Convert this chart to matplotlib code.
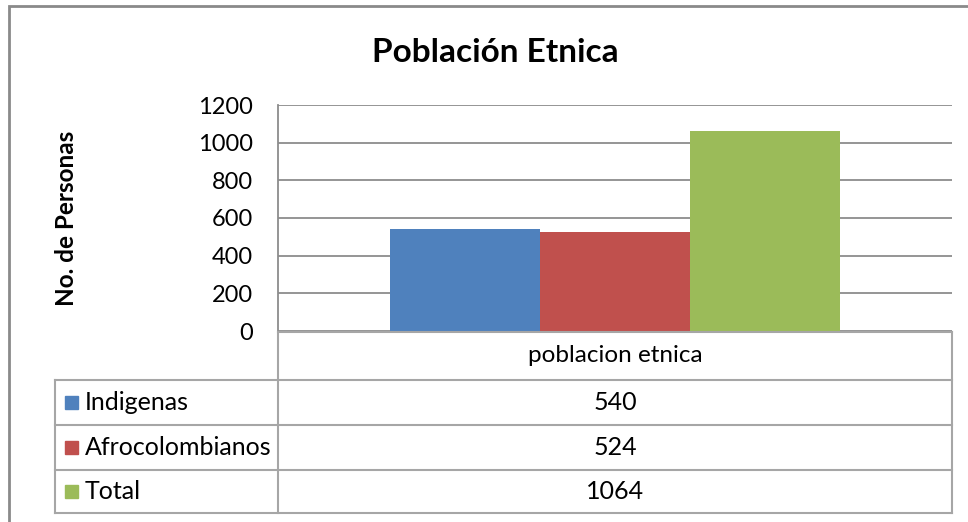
import matplotlib
matplotlib.use('Agg')
import matplotlib.pyplot as plt
from matplotlib.patches import Rectangle

plt.rcParams['font.family'] = ['Lato', 'DejaVu Sans']

# data
category = 'poblacion etnica'
series = ['Indigenas', 'Afrocolombianos', 'Total']
values = [540, 524, 1064]
colors = ['#4F81BD', '#C0504D', '#9BBB59']
yticks = [0, 200, 400, 600, 800, 1000, 1200]

W, H = 968, 522
fig = plt.figure(figsize=(W / 100, H / 100), dpi=100)

def px(x0, y0, x1, y1):
    # pixel box (top-left origin) -> figure fraction
    return [x0 / W, 1 - y1 / H, (x1 - x0) / W, (y1 - y0) / H]

grid_c = '#8c8c8c'
line_c = '#a6a6a6'

# outer chart border
fig.patches.append(Rectangle((9 / W, -0.1), 1.2, 1.1 - 6 / H, transform=fig.transFigure,
                             fill=False, edgecolor='#8a8a8a', lw=2))

# plot area
ax = fig.add_axes(px(278, 105, 952, 331))
w = 1 / 4.5
for i, (s, v, c) in enumerate(zip(series, values, colors)):
    ax.bar((i - 1) * w, v, width=w, color=c, zorder=3, label=s)
ax.set_xlim(-0.5, 0.5)
ax.set_ylim(0, 1200)
ax.set_yticks(yticks)
ax.set_yticklabels([str(t) for t in yticks], fontsize=17)
ax.tick_params(axis='y', length=0, pad=18)
ax.set_xticks([])
ax.grid(axis='y', color=grid_c, lw=1.3, zorder=0)
for sp in ['top', 'right', 'bottom']:
    ax.spines[sp].set_visible(False)
ax.spines['left'].set_color(grid_c)
ax.spines['left'].set_linewidth(1.3)

fig.text(495 / W, 1 - 52 / H, 'Población Etnica', ha='center', va='center',
         fontsize=24, fontweight='bold')
fig.text(66 / W, 1 - 218 / H, 'No. de Personas', ha='center', va='center',
         rotation=90, fontsize=17.5, fontweight='bold')

# data table
tb = fig.add_axes([0, 0, 1, 1], zorder=5)
tb.set_xlim(0, W)
tb.set_ylim(H, 0)
tb.axis('off')
tb.patch.set_visible(False)
x_left, x_div, x_right = 55, 278, 952
rows = [332, 380, 425, 470, 513]
kw = dict(color=line_c, lw=1.5)
tb.plot([x_div, x_right], [rows[0], rows[0]], **kw)
for y in rows[1:]:
    tb.plot([x_left, x_right], [y, y], **kw)
tb.plot([x_div, x_div], [rows[0], rows[-1]], **kw)
tb.plot([x_right, x_right], [rows[0], rows[-1]], **kw)
tb.plot([x_left, x_left], [rows[1], rows[-1]], **kw)

xc = (x_div + x_right) / 2
tb.text(xc, (rows[0] + rows[1]) / 2, category, ha='center', va='center', fontsize=17.5)
for i, (s, v, c) in enumerate(zip(series, values, colors)):
    yc = (rows[i + 1] + rows[i + 2]) / 2
    tb.add_patch(Rectangle((65, yc - 7), 13, 13, color=c))
    tb.text(85, yc, s, ha='left', va='center', fontsize=18)
    tb.text(xc, yc, str(v), ha='center', va='center', fontsize=18)

fig.savefig('out.png', dpi=100)
